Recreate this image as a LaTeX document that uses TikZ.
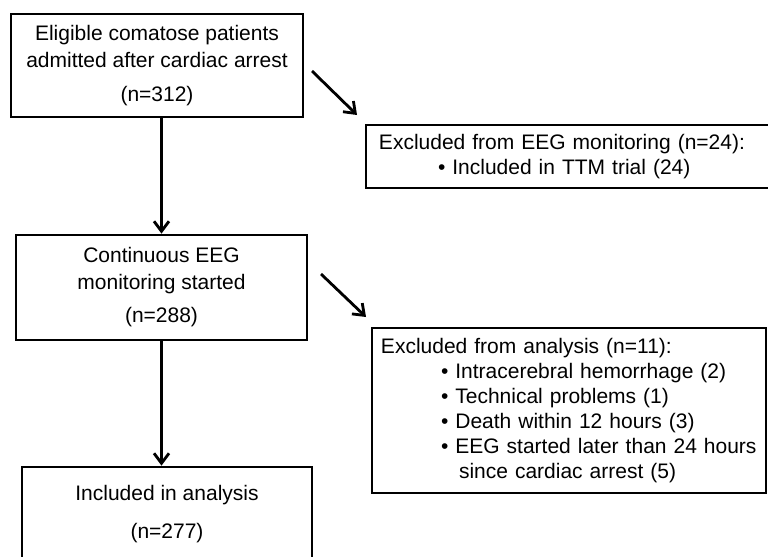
\documentclass[tikz,border=0pt]{standalone}
\usepackage{fontspec}
\setmainfont{Liberation Sans}
\usetikzlibrary{arrows.meta}
\tikzstyle{flowbox}=[draw,line width=2.4pt,inner sep=0pt,align=center,font=\fontsize{0.63cm}{0.81cm}\selectfont]
\tikzstyle{exclbox}=[draw,line width=2.4pt,inner sep=0pt,align=left,font=\fontsize{0.63cm}{0.745cm}\selectfont]
\tikzstyle{arrow}=[line width=2.4pt,-{Straight Barb[length=0.3cm,width=0.45cm]}]
\begin{document}
\begin{tikzpicture}[x=0.03cm, y=-0.03cm]
\useasboundingbox (0,0) rectangle (768,556);
\clip (0,0) rectangle (768,556);

%main flow
\node[flowbox,minimum width=8.76cm,minimum height=3.09cm] (admitted) at (157,65.5)
    {Eligible comatose patients\\admitted after cardiac arrest\\[0.21cm](n=312)};
\node[flowbox,minimum width=8.73cm,minimum height=3.15cm] (monitored) at (161.5,287.5)
    {Continuous EEG\\monitoring started\\[0.18cm](n=288)};
\node[flowbox,minimum width=8.7cm,minimum height=2.82cm] (analysed) at (167,514)
    {Included in analysis\\[0.33cm](n=277)};

%exclusions
\node[exclbox,minimum width=12.72cm,minimum height=1.89cm,text width=11.94cm] (exclEEG) at (578,156.5)
    {Excluded from EEG monitoring (n=24):\\\hspace*{1.77cm}• Included in TTM trial (24)};
\node[exclbox,minimum width=11.82cm,minimum height=4.95cm,text width=11.28cm] (exclAnalysis) at (569,410.5)
    {Excluded from analysis (n=11):\\
     \hspace*{1.8cm}• Intracerebral hemorrhage (2)\\
     \hspace*{1.8cm}• Technical problems (1)\\
     \hspace*{1.8cm}• Death within 12 hours (3)\\
     \hspace*{1.8cm}• EEG started later than 24 hours\\
     \hspace*{2.34cm}since cardiac arrest (5)};

\coordinate (outA) at (312,71);
\coordinate (inA) at (357,115);
\coordinate (outB) at (321,274);
\coordinate (inB) at (366,317);

\foreach \source/\dest in {monitored.north |- admitted.south/monitored.north, monitored.south/monitored.south |- analysed.north, outA/inA, outB/inB}
    \draw[arrow] (\source) -- (\dest);

\end{tikzpicture}
\end{document}
